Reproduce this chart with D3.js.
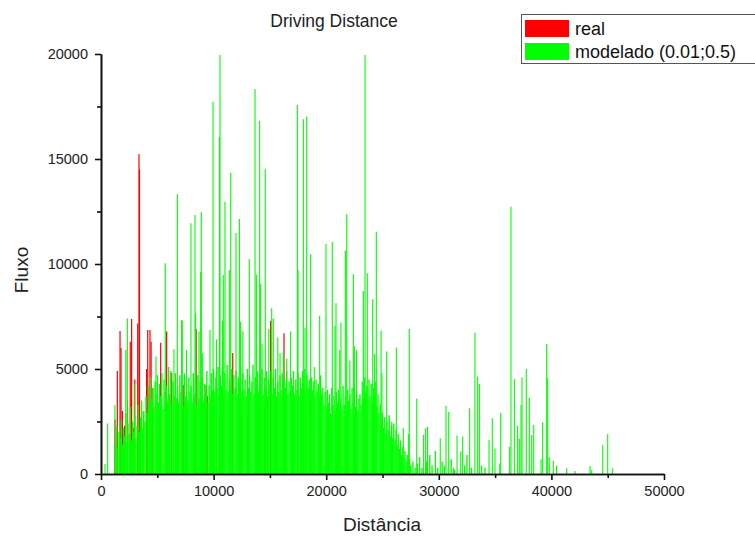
<!DOCTYPE html>
<html>
<head>
<meta charset="utf-8">
<script src="https://cdnjs.cloudflare.com/ajax/libs/d3/7.8.5/d3.min.js"></script>
<style>
  body { margin: 0; background: #fff; }
  text { font-family: "Liberation Sans", Arial, sans-serif; fill: #222; }
</style>
</head>
<body>
<svg id="chart" width="755" height="536"></svg>
<script>
// series "real": [distance, fluxo]
var realPts = [
  [1240,2600],[1450,4900],[1690,6810],[1780,6000],[1900,3000],[2100,2300],[2350,3500],[2600,6300],
  [2720,7380],[2900,2200],[3000,4500],[3260,7170],[3375,15240],[3420,14500],[3600,2500],[4050,5000],
  [4150,6860],[4350,6860],[4450,6300],[4600,4100],[5300,6250],[5830,6780],[6280,4810],[7300,4240],
  [7500,2500],[8450,6900],[9330,4240],[9450,3700],[10500,3000],[11700,5760],[12500,2800],[13850,4000],
  [14500,3200],[15070,7300],[16250,6700],[18000,2500],[20000,2000]
];

// series "modelado": dense body of the distribution
var modelBody = [
  [1300,1500],[1400,2300],[1500,1200],[1600,2000],[1700,1700],[1800,2600],[1900,1400],
  [2000,2200],[2100,1800],[2200,2900],[2300,1500],[2400,2400],[2500,1900],[2600,3200],[2700,1600],[2800,2500],[2900,2000],
  [3000,2800],[3100,1700],[3200,2300],[3300,3300],[3400,2000],[3500,2700],[3600,3500],[3700,2200],[3800,3000],[3900,2500],
  [4000,3700],[4100,2900],[4200,4200],[4300,3300],[4400,4600],[4500,3600],[4600,4100],[4700,3200],[4800,4400],[4900,3800],
  [5000,4700],[5100,3400],[5200,4300],[5300,3700],[5400,4800],[5500,3100],[5600,4500],[5700,3900],[5800,4200],[5900,3500],
  [6000,4600],[6100,3800],[6200,4900],[6300,3300],[6400,4400],[6500,3700],[6600,4800],[6700,3600],[6800,4200],[6900,3400],
  [7000,4700],[7100,3900],[7200,4400],[7300,3200],[7400,4800],[7500,3700],[7600,4300],[7700,3500],[7800,4600],[7900,3900],
  [8000,4200],[8100,3400],[8200,4800],[8300,3800],[8400,4500],[8500,3300],[8600,4700],[8700,3600],[8800,4400],[8900,3900],
  [9000,4600],[9100,3500],[9200,4300],[9300,3800],[9400,4900],[9500,3400],[9600,4200],[9700,3700],[9800,4800],[9900,4000],
  [10000,5000],[10100,3900],[10200,4600],[10300,4100],[10400,5100],[10500,3800],[10600,4700],[10700,4200],[10800,4900],[10900,3700],
  [11000,4800],[11100,4000],[11200,5200],[11300,3900],[11400,4500],[11500,4200],[11600,5000],[11700,3800],[11800,4700],[11900,4100],
  [12000,4900],[12100,3800],[12200,4600],[12300,4300],[12400,5100],[12500,3900],[12600,4800],[12700,4000],[12800,4500],[12900,3700],
  [13000,5000],[13100,4100],[13200,4700],[13300,3900],[13400,4400],[13500,5200],[13600,3800],[13700,4600],[13800,4200],[13900,4900],
  [14000,3900],[14100,4800],[14200,4300],[14300,5000],[14400,3800],[14500,4600],[14600,4100],[14700,4900],[14800,3700],[14900,4500],
  [15000,4200],[15100,4900],[15200,3800],[15300,4600],[15400,4100],[15500,5000],[15600,3700],[15700,4400],[15800,3900],[15900,4700],
  [16000,4000],[16100,4800],[16200,3600],[16300,4500],[16400,4100],[16500,4900],[16600,3800],[16700,4400],[16800,3900],[16900,4600],
  [17000,4200],[17100,4900],[17200,3800],[17300,4500],[17400,4000],[17500,4800],[17600,3700],[17700,4600],[17800,4100],[17900,4900],
  [18000,4300],[18100,5000],[18200,3900],[18300,4700],[18400,4100],[18500,4500],[18600,3800],[18700,4600],[18800,4000],[18900,4400],
  [19000,3700],[19100,4500],[19200,3900],[19300,4300],[19400,3600],[19500,4700],[19600,3800],[19700,4100],[19800,3300],[19900,3900],
  [20000,3200],[20100,4000],[20200,3400],[20300,3800],[20400,2900],[20500,4100],[20600,3300],[20700,3700],[20800,3000],[20900,3900],
  [21000,3400],[21100,4000],[21200,2900],[21300,3600],[21400,3100],[21500,4200],[21600,3300],[21700,3700],[21800,3000],[21900,4000],
  [22000,3500],[22100,3800],[22200,3100],[22300,4100],[22400,3400],[22500,4300],[22600,3200],[22700,3900],[22800,3000],[22900,3600],
  [23000,3800],[23100,3300],[23200,4400],[23300,3600],[23400,4600],[23500,3900],[23600,4200],[23700,3500],[23800,4500],[23900,3700],
  [24000,4300],[24100,3400],[24200,4100],[24300,3600],[24400,4400],[24500,3200],[24600,3800],[24700,2900],[24800,3300],[24900,2500],
  [25000,2900],[25100,2200],[25200,2700],[25300,1900],[25400,2500],[25500,2100],[25600,2800],[25700,1800],[25800,2300],[25900,1700],
  [26000,2400],[26100,1600],[26200,2100],[26300,1400],[26400,1900],[26500,1200],[26600,1600],[26700,900],[26800,1300],[26900,800],
  [27000,1100],[27100,600],[27200,900],[27400,700],[27500,400],[27700,600],[27900,300],
  [28100,500],[28300,800],[28500,300],[28900,600],[29200,900],[29400,400],[29700,1100],[29900,300],
  [30300,600],[30500,400],[31100,700],[31400,200],[32300,400],[32500,900],[32900,300],[33800,400],[34100,300]
];

// series "modelado": isolated taller spikes
var modelPeaks = [
  [355,480],[590,2410],[1240,3290],[2200,5900],[2340,7410],[2950,4300],[3760,2970],[4880,5590],
  [5710,10030],[6000,5100],[6480,5940],[6780,13320],[7160,7330],[7220,7300],[7600,5900],[7990,11940],
  [8350,12330],[8400,7660],[8700,6780],[8850,9630],[8910,12460],[9000,5750],[9680,6860],[9950,17730],
  [10250,6400],[10520,16060],[10570,19950],[10800,7300],[10860,9480],[11010,12970],[11400,9700],[11520,14350],
  [11990,11480],[12290,12140],[12400,7250],[12600,6800],[13170,10240],[13680,18330],[13800,9500],[14090,16810],
  [14180,9030],[14300,6200],[14590,14510],[14900,6900],[15160,7890],[15300,7400],[15700,6500],[15900,5750],
  [16190,5830],[16490,5490],[16840,6780],[17440,17570],[17500,9710],[17970,16890],[18120,6950],[18270,17020],
  [18620,10460],[18940,5100],[19420,7540],[19980,10950],[20540,11050],[20780,7060],[20870,8130],[21200,5920],
  [21310,7220],[21700,10640],[21820,12370],[22100,5400],[22410,9510],[22500,6080],[22700,5900],[23300,8720],
  [23450,19950],[23650,9560],[24130,8320],[24300,5700],[24450,11540],[24870,6830],[24950,4800],[25370,5830],
  [25820,2490],[26230,6020],[26850,2180],[27300,1900],[27380,6920],[28040,3600],[28650,1870],[28830,2180],
  [29000,2250],[30130,1700],[30640,3250],[30880,2970],[31300,300],[31620,1830],[31950,1070],[32120,1780],
  [32740,3130],[33210,6730],[33450,4640],[33600,4290],[34460,1620],[34750,2650],[34990,1220],[35410,500],
  [35500,2920],[36290,1300],[36410,12730],[36710,4520],[37000,2300],[37150,1680],[37300,3290],[37390,4600],
  [37770,5000],[38040,3630],[38250,1860],[38430,2330],[39080,700],[39220,2450],[39580,6190],[39670,4560],
  [39810,800],[40170,630],[40460,400],[41360,270],[42100,140],[43430,380],[43580,200],[44560,1380],
  [45000,1890],[45410,270]
];

var xTicks = [0, 10000, 20000, 30000, 40000, 50000];
var xMinor = [5000, 15000, 25000, 35000, 45000];
var yTicks = [0, 5000, 10000, 15000, 20000];
var yMinor = [2500, 7500, 12500, 17500];
var seriesNames = ["real", "modelado (0.01;0.5)"];
var seriesColors = ["#ff0000", "#00ff00"];

var svg = d3.select("#chart");

var x = d3.scaleLinear().domain([0, 50000]).range([101, 664]);
var y = d3.scaleLinear().domain([0, 20000]).range([474, 54]);

// spikes (real underneath, modelado on top)
var spikes = function(data, cls, color, w) {
  svg.append("g")
    .attr("class", cls)
    .selectAll("line")
    .data(data)
    .enter()
    .append("line")
    .attr("x1", function(d) { return x(d[0]); })
    .attr("x2", function(d) { return x(d[0]); })
    .attr("y1", y(0))
    .attr("y2", function(d) { return y(d[1]); })
    .style("stroke", color)
    .style("stroke-width", w)
    ;
};

spikes(realPts, "real", seriesColors[0], 1.2);
spikes(modelBody, "body", seriesColors[1], 1.35);
spikes(modelPeaks, "peaks", seriesColors[1], 1.1);

// axes
var xAxis = svg.append("g")
  .attr("transform", "translate(0," + y(0) + ")")
  .call(d3.axisBottom(x).tickValues(xTicks).tickSize(6).tickSizeOuter(0).tickPadding(6).tickFormat(d3.format("d")));
var xAxisMinor = svg.append("g")
  .attr("transform", "translate(0," + y(0) + ")")
  .call(d3.axisBottom(x).tickValues(xMinor).tickSize(4).tickSizeOuter(0).tickFormat(""));
var yAxis = svg.append("g")
  .attr("transform", "translate(" + x(0) + ",0)")
  .call(d3.axisLeft(y).tickValues(yTicks).tickSize(6).tickSizeOuter(0).tickPadding(7).tickFormat(d3.format("d")));
var yAxisMinor = svg.append("g")
  .attr("transform", "translate(" + x(0) + ",0)")
  .call(d3.axisLeft(y).tickValues(yMinor).tickSize(4).tickSizeOuter(0).tickFormat(""));

[xAxis, xAxisMinor, yAxis, yAxisMinor].forEach(function(a) {
  a.selectAll("path, line").style("stroke", "#111").style("stroke-width", 1.6);
  a.selectAll("text").style("font-size", "14.5px").style("fill", "#222")
    .style("font-family", "'Liberation Sans', Arial, sans-serif");
});

// titles
svg.append("text")
  .attr("x", 334).attr("y", 27)
  .attr("text-anchor", "middle")
  .style("font-size", "17.5px")
  .text("Driving Distance");

svg.append("text")
  .attr("x", 382).attr("y", 531)
  .attr("text-anchor", "middle")
  .style("font-size", "19px")
  .text("Distância");

svg.append("text")
  .attr("transform", "translate(28,270) rotate(-90)")
  .attr("text-anchor", "middle")
  .style("font-size", "19px")
  .text("Fluxo");

// legend
var legendSelector = svg.append("g");
legendSelector.append("rect")
  .attr("x", 521.5).attr("y", 14.5)
  .attr("width", 260).attr("height", 49)
  .style("fill", "#fff")
  .style("stroke", "#555")
  .style("stroke-width", 1);

var legend = legendSelector.selectAll("g.legenditem")
  .data(seriesNames)
  .enter()
  .append("g")
  .attr("class", "legenditem")
  .attr("transform", function(d, i) { return "translate(525," + (20 + i * 23) + ")"; });

legend.append("rect")
  .attr("width", 44).attr("height", 17)
  .style("fill", function(d, i) { return seriesColors[i]; });

legend.append("text")
  .attr("x", 50).attr("y", 15)
  .style("font-size", "18px")
  .style("fill", "#111")
  .text(function(d) { return d; });
</script>
</body>
</html>
